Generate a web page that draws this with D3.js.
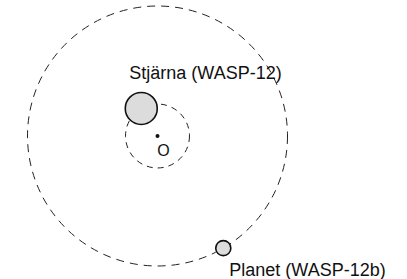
<!DOCTYPE html>
<html>
<head>
<meta charset="utf-8">
<script src="https://cdn.jsdelivr.net/npm/d3@7"></script>
<style>
  body { margin: 0; background: #fff; }
  text { font-family: "Liberation Sans", Arial, sans-serif; fill: #111; }
</style>
</head>
<body>
<script>
const width = 407,
  height = 279;

// kroppar i systemet (stjärna och planet)
const names = ['Stjärna (WASP-12)', 'Planet (WASP-12b)'];
const orbitRadius = [0.246, 1]; // relativt planetens bana
const bodyRadius = [0.123, 0.058];
const angleDeg = [120.5, -59.6];
const labelOffset = [[-12, -29], [6, 28]];
const centerLabel = 'O';

const cx = 157.5,
  cy = 136;

// skala: relativ radie -> pixlar
const r = d3.scaleLinear().domain([0, 1]).range([0, 130]);

const svg = d3
  .select('body')
  .append('svg')
  .attr('width', width)
  .attr('height', height);

const g = svg.append('g').attr('transform', `translate(${cx},${cy})`);

// banor
g.selectAll('circle.orbit')
  .data(orbitRadius)
  .join('circle')
  .attr('class', 'orbit')
  .attr('r', d => r(d))
  .attr('fill', 'none')
  .attr('stroke', '#222')
  .attr('stroke-width', 1)
  .attr('stroke-dasharray', (d, i) => (i === 0 ? '6,5' : '8,6'));

const pos = i => {
  const a = (angleDeg[i] * Math.PI) / 180;
  return [r(orbitRadius[i]) * Math.cos(a), -r(orbitRadius[i]) * Math.sin(a)];
};

// masscentrum
g.append('circle').attr('r', 2).attr('fill', '#111');
g.append('text')
  .attr('x', 6)
  .attr('y', 20)
  .attr('text-anchor', 'middle')
  .style('font-size', '16px')
  .text(centerLabel);

// stjärna och planet
g.selectAll('circle.body')
  .data(names)
  .join('circle')
  .attr('class', 'body')
  .attr('cx', (d, i) => pos(i)[0])
  .attr('cy', (d, i) => pos(i)[1])
  .attr('r', (d, i) => r(bodyRadius[i]))
  .attr('fill', '#dcdcdc')
  .attr('stroke', '#111')
  .attr('stroke-width', 1.6);

g.selectAll('text.label')
  .data(names)
  .join('text')
  .attr('class', 'label')
  .attr('x', (d, i) => pos(i)[0] + labelOffset[i][0])
  .attr('y', (d, i) => pos(i)[1] + labelOffset[i][1])
  .style('font-size', '18px')
  .text(d => d);
</script>
</body>
</html>
